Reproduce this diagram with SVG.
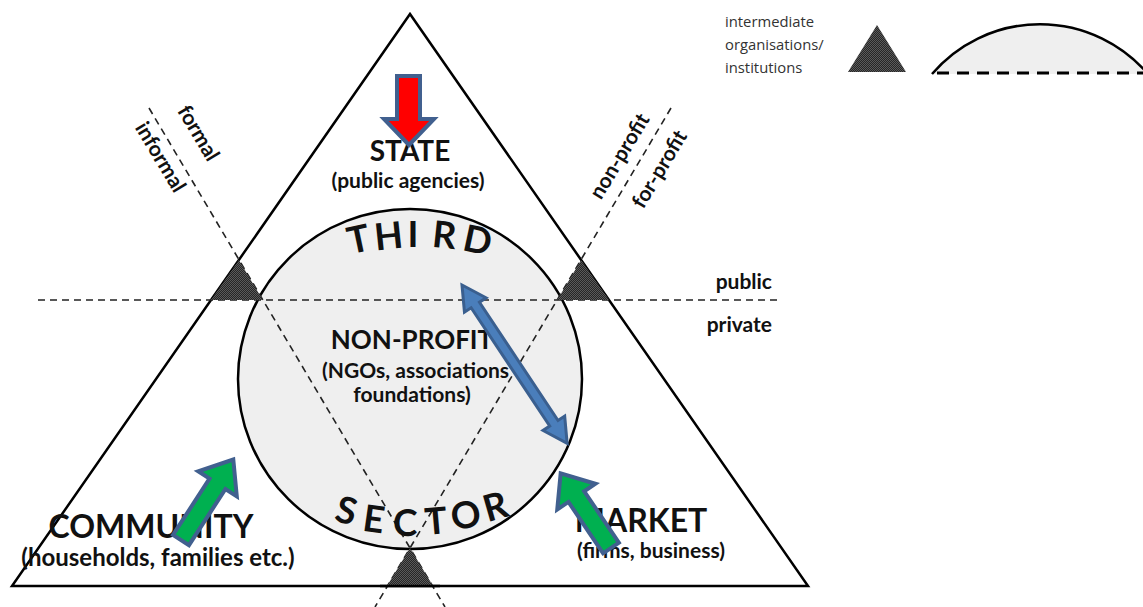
<svg xmlns="http://www.w3.org/2000/svg" width="1143" height="607" viewBox="0 0 1143 607">
<style>
.b{font-family:Lato,"Liberation Sans",sans-serif;font-weight:bold;fill:#111;}
.big{font-family:Lato,"Liberation Sans",sans-serif;font-weight:bold;fill:#111;font-size:37px;text-anchor:middle;}
.rot{font-family:Lato,"Liberation Sans",sans-serif;font-weight:bold;fill:#111;font-size:21px;text-anchor:middle;dominant-baseline:middle;}
.dash{stroke:#222;stroke-width:1.6;stroke-dasharray:7 5;fill:none;}
.hatch{fill:url(#hp);}
.g{fill:#00b050;stroke:#41608f;stroke-width:4;stroke-linejoin:miter;}
.leg{font-family:"Open Sans","Liberation Sans",sans-serif;font-size:14.8px;fill:#333;}
</style>
<defs>
<pattern id="hp" width="2" height="2" patternUnits="userSpaceOnUse">
<rect width="2" height="2" fill="#262626"/>
<rect width="1" height="1" fill="#5a5a5a"/>
<rect x="1" y="1" width="1" height="1" fill="#5a5a5a"/>
</pattern>
</defs>
<rect width="1143" height="607" fill="#fff"/>
<g id="triangle">
<polygon points="410,14 12,586 808,586" fill="#fff" stroke="#000" stroke-width="2.5" stroke-linejoin="miter"/>
</g>
<g id="circle">
<ellipse cx="410" cy="379" rx="172" ry="170" fill="#efefef" stroke="#000" stroke-width="2.5"/>
</g>
<g id="connectors">
<line class="dash" x1="38" y1="300" x2="782" y2="300"/>
<line class="dash" x1="149" y1="108" x2="445" y2="607"/>
<line class="dash" x1="671" y1="108" x2="375" y2="607"/>
</g>
<g id="intermediates">
<polygon class="hatch" points="238.9,259.9 210.9,300 262.7,300"/>
<polygon class="hatch" points="581.1,259.9 557.3,300 609.1,300"/>
<polygon class="hatch" points="410,548 387,586 433,586"/>
<line x1="380" y1="586" x2="440" y2="586" stroke="#000" stroke-width="2.5"/>
</g>
<g id="labels-axes">
<text class="rot" transform="translate(197,134) rotate(59)">formal</text>
<text class="rot" transform="translate(159,158) rotate(59)">informal</text>
<text class="rot" transform="translate(621,157) rotate(-59)">non-profit</text>
<text class="rot" transform="translate(661,170) rotate(-59)">for-profit</text>
<text class="b" font-size="21" x="772" y="289" text-anchor="end">public</text>
<text class="b" font-size="21" x="772" y="332" text-anchor="end">private</text>
</g>
<g id="state">
<text class="b" font-size="28" x="410" y="161" text-anchor="middle">STATE</text>
<text class="b" font-size="21" x="408" y="188" text-anchor="middle">(public agencies)</text>
</g>
<g id="third-sector">
<text class="big" transform="translate(361,252) rotate(-12)">T</text>
<text class="big" transform="translate(390,249) rotate(-6)">H</text>
<text class="big" transform="translate(413,247)">I</text>
<text class="big" transform="translate(443,248) rotate(6)">R</text>
<text class="big" transform="translate(475,253) rotate(12)">D</text>
<text class="big" transform="translate(343,523) rotate(15)">S</text>
<text class="big" transform="translate(372,532) rotate(8)">E</text>
<text class="big" transform="translate(405,536) rotate(1)">C</text>
<text class="big" transform="translate(437,534) rotate(-5)">T</text>
<text class="big" transform="translate(468,528) rotate(-10)">O</text>
<text class="big" transform="translate(499,519) rotate(-16)">R</text>
<text class="b" font-size="26" x="412" y="349" text-anchor="middle">NON-PROFIT</text>
<text class="b" font-size="21" x="322" y="378">(NGOs, associations</text>
<text class="b" font-size="21" x="412" y="402" text-anchor="middle">foundations)</text>
</g>
<g id="community">
<text class="b" font-size="32" x="151" y="538" text-anchor="middle">COMMUNITY</text>
<text class="b" font-size="24" x="158" y="566" text-anchor="middle">(households, families etc.)</text>
</g>
<g id="market">
<text class="b" font-size="32" x="641" y="532" text-anchor="middle">MARKET</text>
<text class="b" font-size="21" x="651" y="558" text-anchor="middle">(firms, business)</text>
</g>
<g id="arrows">
<polygon points="397,76 420,76 420,119 434,119 409,145 384,119 397,119" fill="#ff0000" stroke="#41608f" stroke-width="4" stroke-linejoin="miter"/>
<polygon transform="translate(462,285) rotate(56.4)" points="0,0 24,-13 24,-5 166,-5 166,-13 190,0 166,13 166,5 24,5 24,13" fill="#4a7ebb" stroke="#3a5f8f" stroke-width="3" stroke-linejoin="miter"/>
<polygon class="g" transform="translate(181,540) rotate(-57)" points="0,-9.5 67,-9.5 67,-23 96,0 67,23 67,9.5 0,9.5"/>
<polygon class="g" transform="translate(611,548) rotate(-124)" points="0,-9.5 62,-9.5 62,-23 90,0 62,23 62,9.5 0,9.5"/>
</g>
<g id="legend">
<text class="leg" x="725" y="27">intermediate</text>
<text class="leg" x="725" y="50">organisations/</text>
<text class="leg" x="725" y="73">institutions</text>
<polygon class="hatch" points="877,25 848,72 906,72"/>
<path d="M932,74 A142,142 0 0 1 1148,74 Z" fill="#efefef" stroke="none"/>
<path d="M932,74 A142,142 0 0 1 1148,74" fill="none" stroke="#000" stroke-width="2.5"/>
<line x1="937" y1="73" x2="1143" y2="73" stroke="#000" stroke-width="3" stroke-dasharray="12 8"/>
</g>
</svg>
